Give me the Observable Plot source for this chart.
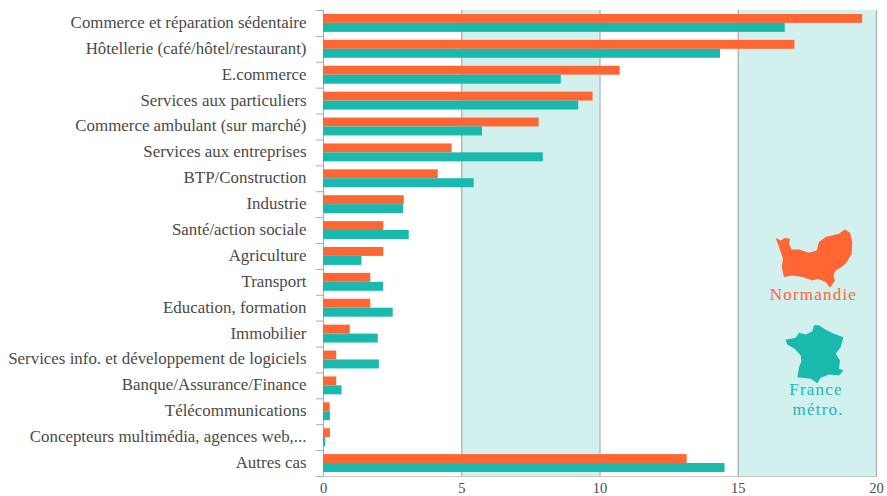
<!DOCTYPE html>
<html><head><meta charset="utf-8">
<script src="https://cdn.jsdelivr.net/npm/d3@7"></script>
<script src="https://cdn.jsdelivr.net/npm/@observablehq/plot@0.6"></script>
<style>html,body{margin:0;padding:0;background:#fff}svg{display:block}</style>
</head><body><div id="chart"></div>
<script>
const categories = ["Commerce et réparation sédentaire","Hôtellerie (café/hôtel/restaurant)","E.commerce","Services aux particuliers","Commerce ambulant (sur marché)","Services aux entreprises","BTP/Construction","Industrie","Santé/action sociale","Agriculture","Transport","Education, formation","Immobilier","Services info. et développement de logiciels","Banque/Assurance/Finance","Télécommunications","Concepteurs multimédia, agences web,...","Autres cas"];
const normandie = [19.5,17.05,10.73,9.75,7.8,4.65,4.15,2.92,2.18,2.18,1.71,1.71,0.97,0.48,0.48,0.24,0.25,13.15];
const france = [16.7,14.36,8.6,9.23,5.75,7.95,5.45,2.9,3.1,1.39,2.17,2.52,1.98,2.02,0.67,0.25,0.08,14.52];
const xTicks = [0,5,10,15,20];
const bands = [[5,10],[15,20]];
const ORANGE = "#ff6633", TEAL = "#19b9ae";
const normandieShape = "15,38 30,45 42,38 58,40 55,55 63,72 85,72 115,82 138,75 145,50 165,35 205,25 222,12 238,22 245,50 243,85 225,115 205,130 195,135 188,150 193,165 178,187 165,170 140,160 125,165 95,155 65,150 40,155 33,125 37,100 25,65";
const franceShape = "14,58 30,55 45,52 55,37 75,42 95,32 100,14 115,14 135,28 160,40 188,50 180,80 165,100 178,120 175,145 188,150 175,165 145,162 120,172 110,188 90,175 50,170 55,140 62,122 60,105 42,85 20,72";
const icon = (pts, vb, color) => "data:image/svg+xml," + encodeURIComponent(`<svg xmlns="http://www.w3.org/2000/svg" viewBox="${vb}"><polygon points="${pts}" fill="${color}"/></svg>`);
const FONT = "Liberation Serif";
const chart = Plot.plot({
  width: 887, height: 496,
  marginTop: 10, marginBottom: 20, marginLeft: 323, marginRight: 11,
  style: {fontFamily: FONT, background: "#fff"},
  x: {domain: [0,20], axis: null},
  y: {domain: categories, padding: 0, round: false, axis: null},
  marks: [
    Plot.rect(bands, {x1: d => d[0], x2: d => d[1], fill: "#d1f0ee"}),
    Plot.ruleX(xTicks, {stroke: "#a8aeae", strokeWidth: 1.2}),
    Plot.frame({anchor: "bottom", stroke: "#c4c8c8"}),
    Plot.barX(categories, {y: d => d, x: (d,i) => normandie[i], fill: ORANGE, insetTop: 4, insetBottom: 13}),
    Plot.barX(categories, {y: d => d, x: (d,i) => france[i], fill: TEAL, insetTop: 12.9, insetBottom: 4}),
    Plot.axisY({anchor: "left", ticks: categories, tickSize: 7, dy: -12.95, stroke: "#a8aeae", text: null}),
    Plot.axisY({anchor: "left", ticks: categories.slice(-1), tickSize: 7, dy: 12.95, stroke: "#a8aeae", text: null}),
    Plot.axisY({anchor: "left", ticks: categories, tickSize: 0, tickPadding: 17, dy: -1, fontSize: 16.9, fill: "#4a4a4a", label: null}),
    Plot.axisX({anchor: "bottom", ticks: xTicks, tickSize: 0, tickPadding: 6, fontSize: 14.5, fill: "#4a4a4a", label: null}),
    Plot.image([0], {x: () => 17.8, y: () => "Agriculture", dy: 2, width: 90, height: 66, src: () => icon(normandieShape, "0 0 270 198", ORANGE), preserveAspectRatio: "none"}),
    Plot.image([0], {x: () => 17.8, y: () => "Immobilier", dy: 19.4, width: 70, height: 66, src: () => icon(franceShape, "0 0 210 198", TEAL), preserveAspectRatio: "none"}),
    Plot.text(["Normandie"], {x: () => 17.72, y: () => "Transport", dy: 12, text: d => d, fill: ORANGE, fontSize: 17, className: "legend"}),
    Plot.text(["France"], {x: () => 17.81, y: () => "Services info. et développement de logiciels", dy: 30, text: d => d, fill: TEAL, fontSize: 17, className: "legend"}),
    Plot.text(["métro."], {x: () => 17.89, y: () => "Télécommunications", dy: -2.5, text: d => d, fill: TEAL, fontSize: 17, className: "legend"})
  ]
});
d3.select(chart).selectAll(".legend text").style("letter-spacing", "1.2px");
document.getElementById("chart").append(chart);
</script></body></html>
